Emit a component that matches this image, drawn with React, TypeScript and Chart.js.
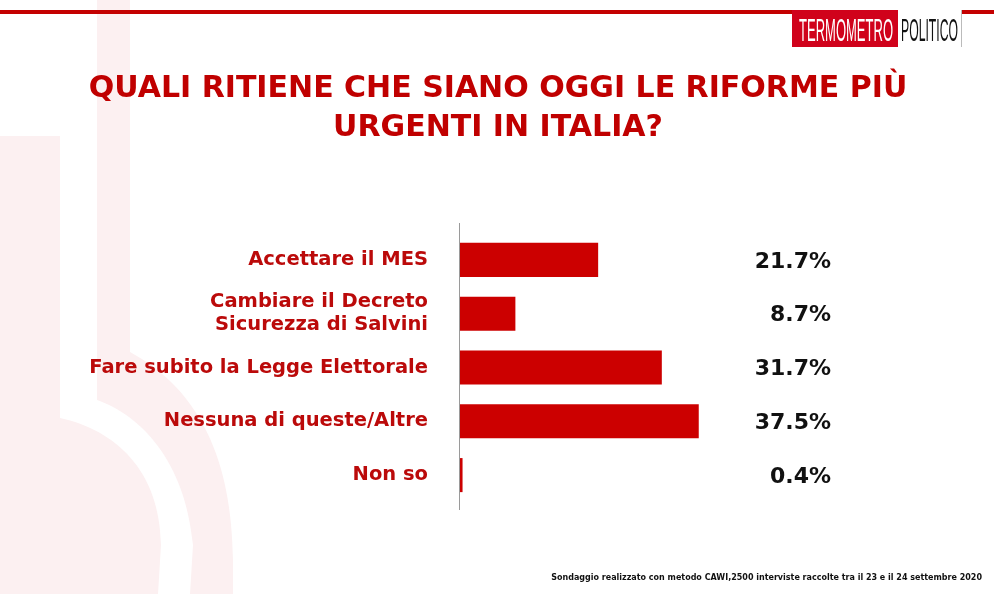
import React, { useEffect, useRef } from 'react';
import { Chart, registerables } from 'chart.js';

Chart.register(...registerables);

const categories: (string | string[])[] = [
  'Accettare il MES',
  ['Cambiare il Decreto', 'Sicurezza di Salvini'],
  'Fare subito la Legge Elettorale',
  'Nessuna di queste/Altre',
  'Non so',
];
const values = [21.7, 8.7, 31.7, 37.5, 0.4];
const valueLabels = ['21.7%', '8.7%', '31.7%', '37.5%', '0.4%'];
const titleLines = ['QUALI RITIENE CHE SIANO OGGI LE RIFORME PIÙ', 'URGENTI IN ITALIA?'];
const footnote =
  'Sondaggio realizzato con metodo CAWI,2500 interviste raccolte tra il 23 e il 24 settembre 2020';
const logoLeft = 'TERMOMETRO';
const logoRight = 'POLITICO';

const RED = '#cc0000';
const DARK_RED = '#bb0a0a';
const PINK = '#fcf0f1';

const backgroundPlugin = {
  id: 'bgDecor',
  beforeDraw(chart: any) {
    const ctx = chart.ctx as CanvasRenderingContext2D;
    const W = chart.width;
    const H = chart.height;
    ctx.save();
    ctx.fillStyle = '#ffffff';
    ctx.fillRect(0, 0, W, H);

    // faint thermometer shapes
    ctx.fillStyle = PINK;
    ctx.beginPath();
    ctx.moveTo(0, 136);
    ctx.lineTo(60, 136);
    ctx.lineTo(60, 418);
    ctx.bezierCurveTo(115, 430, 160, 470, 161, 545);
    ctx.lineTo(158, H);
    ctx.lineTo(0, H);
    ctx.closePath();
    ctx.fill();

    ctx.beginPath();
    ctx.moveTo(97, 0);
    ctx.lineTo(130, 0);
    ctx.lineTo(130, 352);
    ctx.bezierCurveTo(200, 390, 232, 460, 233, 560);
    ctx.lineTo(233, H);
    ctx.lineTo(190, H);
    ctx.lineTo(193, 545);
    ctx.bezierCurveTo(185, 460, 140, 415, 97, 400);
    ctx.closePath();
    ctx.fill();

    // top rule
    ctx.fillStyle = '#c40000';
    ctx.fillRect(0, 10, 793, 4);
    ctx.fillRect(962, 10, W - 962, 4);

    // logo
    ctx.fillStyle = '#d0021b';
    ctx.fillRect(792, 10, 106, 37);
    ctx.fillStyle = '#ffffff';
    ctx.fillRect(898, 10, 63, 37);
    ctx.strokeStyle = '#bbbbbb';
    ctx.lineWidth = 1;
    ctx.beginPath();
    ctx.moveTo(961.5, 10);
    ctx.lineTo(961.5, 47);
    ctx.stroke();

    ctx.font = '31px "Liberation Sans"';
    ctx.textBaseline = 'alphabetic';
    ctx.textAlign = 'left';
    const wl = ctx.measureText(logoLeft).width;
    ctx.save();
    ctx.translate(799, 41);
    ctx.scale(94 / wl, 1);
    ctx.fillStyle = '#ffffff';
    ctx.fillText(logoLeft, 0, 0);
    ctx.restore();
    const wr = ctx.measureText(logoRight).width;
    ctx.save();
    ctx.translate(901, 41);
    ctx.scale(57 / wr, 1);
    ctx.fillStyle = '#111111';
    ctx.fillText(logoRight, 0, 0);
    ctx.restore();

    ctx.restore();
  },
  afterDraw(chart: any) {
    const ctx = chart.ctx as CanvasRenderingContext2D;
    const area = chart.chartArea;
    ctx.save();

    // title
    ctx.fillStyle = '#c00000';
    ctx.textAlign = 'center';
    ctx.textBaseline = 'alphabetic';
    ctx.font = 'bold 30px "DejaVu Sans"';
    ctx.fillText(titleLines[0], 498, 97);
    ctx.fillText(titleLines[1], 498, 136);

    // axis line
    ctx.strokeStyle = '#9a9a9a';
    ctx.lineWidth = 1;
    ctx.beginPath();
    ctx.moveTo(Math.round(area.left) - 0.5, area.top - 10);
    ctx.lineTo(Math.round(area.left) - 0.5, area.bottom + 8);
    ctx.stroke();

    // value labels
    const meta = chart.getDatasetMeta(0);
    ctx.fillStyle = '#111111';
    ctx.textAlign = 'right';
    ctx.textBaseline = 'middle';
    ctx.font = 'bold 22px "DejaVu Sans"';
    meta.data.forEach((bar: any, i: number) => {
      ctx.fillText(valueLabels[i], area.right - 11, bar.y + 2);
    });

    // footnote
    ctx.fillStyle = '#111111';
    ctx.textAlign = 'right';
    ctx.textBaseline = 'alphabetic';
    ctx.font = 'bold 8px "DejaVu Sans"';
    ctx.fillText(footnote, 982, 580);

    ctx.restore();
  },
};

export default function App() {
  const ref = useRef<HTMLCanvasElement | null>(null);

  useEffect(() => {
    document.body.style.margin = '0';
    const canvas = ref.current;
    if (!canvas) return;
    const chart = new Chart(canvas, {
      type: 'bar',
      data: {
        labels: categories as any,
        datasets: [
          {
            data: values,
            backgroundColor: RED,
            borderWidth: 0,
            barPercentage: 0.633,
            categoryPercentage: 1,
          },
        ],
      },
      options: {
        indexAxis: 'y',
        responsive: false,
        animation: false,
        devicePixelRatio: 1,
        layout: { padding: { top: 233, bottom: 92, left: 0, right: 152 } },
        plugins: {
          legend: { display: false },
          tooltip: { enabled: false },
          title: { display: false },
        },
        scales: {
          x: { display: false, min: 0, max: 60 },
          y: {
            grid: { display: false, drawTicks: false },
            border: { display: false },
            ticks: {
              color: DARK_RED,
              autoSkip: false,
              padding: 32,
              font: { family: '"DejaVu Sans"', weight: 'bold', size: 19.5, lineHeight: 1.2 },
            },
            afterFit: (scale: any) => {
              scale.width = 460;
            },
          },
        },
      },
      plugins: [backgroundPlugin],
    });
    return () => chart.destroy();
  }, []);

  return (
    <div style={{ width: 994, height: 594 }}>
      <canvas ref={ref} width={994} height={594} style={{ display: 'block' }} />
    </div>
  );
}
